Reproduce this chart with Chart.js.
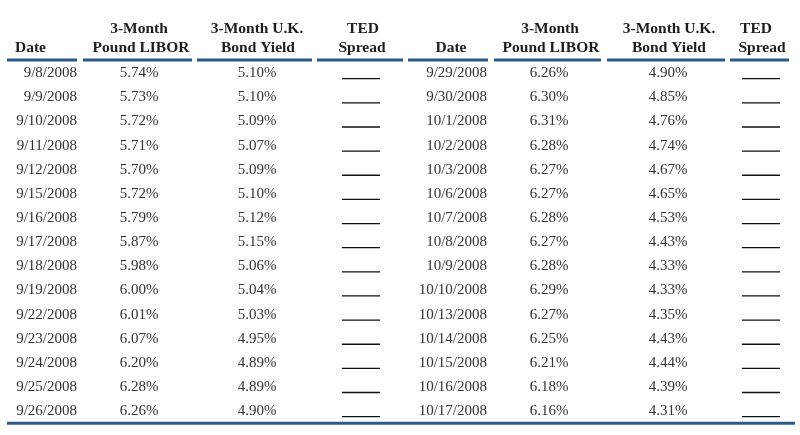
<!DOCTYPE html>
<html>
<head>
<meta charset="utf-8">
<script src="https://cdn.jsdelivr.net/npm/chart.js@4"></script>
<style>
  html, body { margin: 0; padding: 0; background: #fff; }
  #c { display: block; }
</style>
</head>
<body>
<canvas id="c" width="800" height="435"></canvas>
<script>
// table data
const datesLeft = ['9/8/2008', '9/9/2008', '9/10/2008', '9/11/2008', '9/12/2008', '9/15/2008', '9/16/2008', '9/17/2008',
  '9/18/2008', '9/19/2008', '9/22/2008', '9/23/2008', '9/24/2008', '9/25/2008', '9/26/2008']
const liborLeft = [5.74, 5.73, 5.72, 5.71, 5.70, 5.72, 5.79, 5.87, 5.98, 6.00, 6.01, 6.07, 6.20, 6.28, 6.26]
const bondLeft = [5.10, 5.10, 5.09, 5.07, 5.09, 5.10, 5.12, 5.15, 5.06, 5.04, 5.03, 4.95, 4.89, 4.89, 4.90]

const datesRight = ['9/29/2008', '9/30/2008', '10/1/2008', '10/2/2008', '10/3/2008', '10/6/2008', '10/7/2008', '10/8/2008',
  '10/9/2008', '10/10/2008', '10/13/2008', '10/14/2008', '10/15/2008', '10/16/2008', '10/17/2008']
const liborRight = [6.26, 6.30, 6.31, 6.28, 6.27, 6.27, 6.28, 6.27, 6.28, 6.29, 6.27, 6.25, 6.21, 6.18, 6.16]
const bondRight = [4.90, 4.85, 4.76, 4.74, 4.67, 4.65, 4.53, 4.43, 4.33, 4.33, 4.35, 4.43, 4.44, 4.39, 4.31]

const headers = [
  ['', 'Date'], ['3-Month', 'Pound LIBOR'], ['3-Month U.K.', 'Bond Yield'], ['TED', 'Spread'],
  ['', 'Date'], ['3-Month', 'Pound LIBOR'], ['3-Month U.K.', 'Bond Yield'], ['TED', 'Spread']
]

// layout (pixels along the x scale, row units along the y scale)
const colX = [77, 139, 257, 361, 487, 549, 668, 761]
const colAlign = ['right', 'center', 'center', 'center', 'right', 'center', 'center', 'center']
const headX = [[0, 30.5], [139, 141], [257, 258], [363, 362], [0, 451], [550, 551], [669, 669], [756, 762]]
const ruleSegs = [[7, 77], [83, 192], [197, 312], [317, 403], [408, 488], [494, 601], [607, 725], [730, 789]]
const rowH = 24.14
const yMin = -73.2 / rowH
const blue = '#2b5b8c'

const pct = v => v.toFixed(2) + '%'
const rows = datesLeft.map((_, i) => i)
const columns = [
  datesLeft, liborLeft.map(pct), bondLeft.map(pct), null,
  datesRight, liborRight.map(pct), bondRight.map(pct), null
]

const datasets = columns.map((col, c) => ({
  label: 'col' + c,
  data: rows.map(r => ({ x: colX[c], y: r, t: col ? col[r] : null })),
  pointRadius: 0,
  showLine: false
}))

const tablePlugin = {
  id: 'table',
  afterDatasetsDraw(chart) {
    const ctx = chart.ctx
    const xs = chart.scales.x, ys = chart.scales.y
    ctx.save()
    // headers
    ctx.fillStyle = '#1e1e1e'
    ctx.font = 'bold 15.5px "Liberation Serif", "Times New Roman", serif'
    ctx.textAlign = 'center'
    ctx.textBaseline = 'middle'
    headers.forEach((h, c) => {
      if (h[0]) ctx.fillText(h[0], xs.getPixelForValue(headX[c][0]), ys.getPixelForValue(-1.84))
      ctx.fillText(h[1], xs.getPixelForValue(headX[c][1]), ys.getPixelForValue(-1.05))
    })
    // header rules
    ctx.strokeStyle = blue
    ctx.lineWidth = 3
    ruleSegs.forEach(s => {
      const y = ys.getPixelForValue(-0.55)
      ctx.beginPath()
      ctx.moveTo(xs.getPixelForValue(s[0]), y)
      ctx.lineTo(xs.getPixelForValue(s[1]), y)
      ctx.stroke()
    })
    // bottom rule
    const yb = ys.getPixelForValue(14.5)
    ctx.beginPath()
    ctx.moveTo(xs.getPixelForValue(7), yb)
    ctx.lineTo(xs.getPixelForValue(795), yb)
    ctx.stroke()
    // cells
    ctx.font = '15px "Liberation Serif", "Times New Roman", serif'
    chart.data.datasets.forEach((ds, c) => {
      const meta = chart.getDatasetMeta(c)
      meta.data.forEach((pt, i) => {
        const t = ds.data[i].t
        if (t === null) {
          ctx.strokeStyle = '#111'
          ctx.lineWidth = 1.3
          ctx.beginPath()
          ctx.moveTo(pt.x - 19, pt.y + 5.5)
          ctx.lineTo(pt.x + 19, pt.y + 5.5)
          ctx.stroke()
        } else {
          ctx.fillStyle = '#333'
          ctx.textAlign = colAlign[c]
          ctx.fillText(t, pt.x, pt.y)
        }
      })
    })
    ctx.restore()
  }
}

new Chart(document.getElementById('c'), {
  type: 'scatter',
  data: { datasets },
  options: {
    responsive: false,
    animation: false,
    layout: { padding: 0 },
    plugins: { legend: { display: false }, tooltip: { enabled: false } },
    scales: {
      x: { type: 'linear', min: 0, max: 800, display: false },
      y: { type: 'linear', reverse: true, min: yMin, max: yMin + 435 / rowH, display: false }
    }
  },
  plugins: [tablePlugin]
})
</script>
</body>
</html>
